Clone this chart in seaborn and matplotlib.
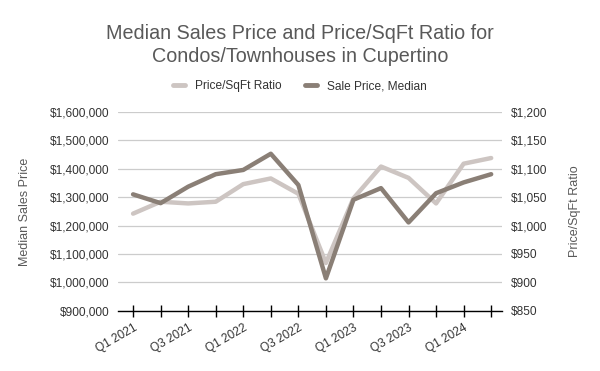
import matplotlib
matplotlib.use("Agg")
import matplotlib.pyplot as plt
import matplotlib.ticker as mticker
import pandas as pd
import seaborn as sns

quarters = ["Q1 2021", "Q2 2021", "Q3 2021", "Q4 2021",
            "Q1 2022", "Q2 2022", "Q3 2022", "Q4 2022",
            "Q1 2023", "Q2 2023", "Q3 2023", "Q4 2023",
            "Q1 2024", "Q2 2024"]
sale_price = [1310000, 1279000, 1337000, 1381000,
              1396000, 1453000, 1343000, 1014000,
              1291000, 1332000, 1211000, 1314000,
              1352000, 1381000]
price_sqft = [1021, 1042, 1039, 1042,
              1073, 1083, 1056, 934,
              1048, 1104, 1084, 1039,
              1109, 1119]

DARK = "#8a7f76"
LIGHT = "#cdc5c2"
GREY = "#595959"

sns.set_theme(style="white")
plt.rcParams["font.family"] = ["Liberation Sans", "DejaVu Sans"]

df = pd.DataFrame({"quarter": quarters, "pos": range(len(quarters)),
                   "sale": sale_price, "sqft": price_sqft})

fig = plt.figure(figsize=(6, 3.71), dpi=100)
ax = fig.add_axes([0.197, 0.1625, 0.640, 0.5355])
ax2 = ax.twinx()

sns.lineplot(data=df, x="pos", y="sqft", ax=ax2, color=LIGHT, linewidth=3.2)
sns.lineplot(data=df, x="pos", y="sale", ax=ax, color=DARK, linewidth=3.2)
# draw the dark line above the light one
ax.set_zorder(ax2.get_zorder() + 1)
ax.patch.set_visible(False)

ax.set_xlim(-0.54, 13.4)
ax.set_ylim(900000, 1600000)
ax2.set_ylim(850, 1200)
ax.yaxis.set_major_locator(mticker.MultipleLocator(100000))
ax2.yaxis.set_major_locator(mticker.MultipleLocator(50))
ax.yaxis.set_major_formatter(mticker.StrMethodFormatter("${x:,.0f}"))
ax2.yaxis.set_major_formatter(mticker.StrMethodFormatter("${x:,.0f}"))

ax2.grid(axis="y", color="#cccccc", linewidth=0.9)
ax.grid(False)
for a in (ax, ax2):
    for side in ("top", "left", "right", "bottom"):
        a.spines[side].set_visible(False)
ax.spines["bottom"].set_visible(True)
ax.spines["bottom"].set_color("black")
ax.spines["bottom"].set_linewidth(1.0)

ax.set_xticks(range(len(quarters)))
ax.set_xticklabels([q if i % 2 == 0 else "" for i, q in enumerate(quarters)],
                   rotation=30, ha="right", rotation_mode="anchor")
ax.tick_params(axis="x", bottom=True, direction="inout", length=8, width=1,
               color="black", labelsize=8.6, labelcolor="#333333", pad=4)
ax.tick_params(axis="y", length=0, labelsize=8.6, labelcolor="#333333", pad=6)
ax2.tick_params(axis="y", length=0, labelsize=8.6, labelcolor="#333333", pad=6)

ax.set_xlabel("")
ax.set_ylabel("Median Sales Price", color=GREY, fontsize=9, labelpad=14)
ax2.set_ylabel("Price/SqFt Ratio", color=GREY, fontsize=9, labelpad=16)

fig.text(0.5, 0.879, "Median Sales Price and Price/SqFt Ratio for\nCondos/Townhouses in Cupertino",
         ha="center", va="center", fontsize=14.2, color=GREY, linespacing=1.3)

handles = [plt.Line2D([], [], color=LIGHT, linewidth=3.5),
           plt.Line2D([], [], color=DARK, linewidth=3.5)]
fig.legend(handles, ["Price/SqFt Ratio", "Sale Price, Median"],
           loc="center", bbox_to_anchor=(0.5, 0.768), ncol=2, frameon=False,
           fontsize=8.6, handlelength=1.0, columnspacing=2.0, handletextpad=0.8,
           labelcolor="#333333")

fig.savefig("out.png", dpi=100, facecolor="white")
